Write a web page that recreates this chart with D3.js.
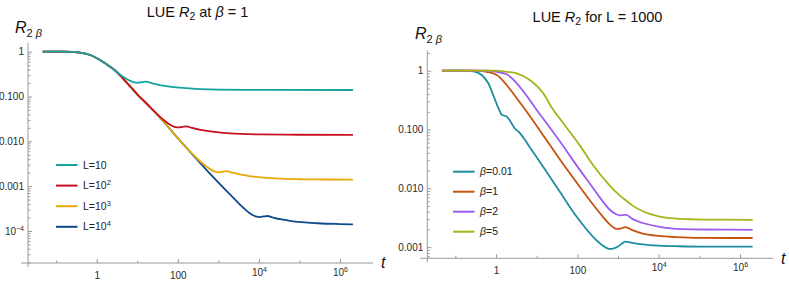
<!DOCTYPE html>
<html>
<head>
<meta charset="utf-8">
<script src="https://cdn.jsdelivr.net/npm/d3@7"></script>
<style>
  body { margin: 0; background: #fff; }
  svg text { font-family: "Liberation Sans", Arial, sans-serif; }
</style>
</head>
<body>
<svg id="chart" width="789" height="283"></svg>
<script>
// points are [log10 t, log10 R2]

// left panel : beta = 1, several L
const curveL10 = [[-1.33,0],[-0.8,0],[-0.41,-0.022],[-0.16,-0.074],[0.08,-0.185],[0.33,-0.335],[0.49,-0.447],[0.65,-0.56],[0.82,-0.648],[0.93,-0.685],[1.02,-0.693],[1.12,-0.68],[1.21,-0.668],[1.35,-0.7],[1.56,-0.744],[1.8,-0.78],[2.05,-0.804],[2.54,-0.834],[3.0,-0.846],[4.0,-0.853],[6.32,-0.855]];
const curveL100 = [[-1.33,0],[-0.8,0],[-0.41,-0.022],[-0.16,-0.074],[0.08,-0.185],[0.33,-0.335],[0.49,-0.447],[0.65,-0.6],[0.82,-0.77],[1.0,-0.95],[1.31,-1.23],[1.45,-1.36],[1.62,-1.5],[1.8,-1.625],[1.92,-1.677],[2.02,-1.69],[2.12,-1.676],[2.21,-1.666],[2.35,-1.7],[2.56,-1.744],[2.8,-1.78],[3.05,-1.804],[3.54,-1.834],[4.0,-1.846],[5.0,-1.853],[6.32,-1.855]];
const curveL1000 = [[-1.33,0],[-0.8,0],[-0.41,-0.022],[-0.16,-0.074],[0.08,-0.185],[0.33,-0.335],[0.49,-0.447],[0.65,-0.6],[0.82,-0.77],[1.0,-0.95],[1.31,-1.23],[1.45,-1.36],[1.62,-1.53],[2.0,-1.93],[2.25,-2.18],[2.45,-2.36],[2.62,-2.5],[2.8,-2.62],[2.92,-2.675],[3.02,-2.69],[3.12,-2.676],[3.21,-2.666],[3.35,-2.7],[3.56,-2.744],[3.8,-2.78],[4.05,-2.804],[4.54,-2.834],[5.0,-2.846],[5.6,-2.852],[6.32,-2.855]];
const curveL10000 = [[-1.33,0],[-0.8,0],[-0.41,-0.022],[-0.16,-0.074],[0.08,-0.185],[0.33,-0.335],[0.49,-0.447],[0.65,-0.6],[0.82,-0.77],[1.0,-0.95],[1.31,-1.23],[1.45,-1.36],[1.62,-1.53],[2.0,-1.93],[2.25,-2.18],[2.45,-2.38],[2.7,-2.63],[2.95,-2.87],[3.36,-3.25],[3.6,-3.47],[3.8,-3.62],[3.92,-3.675],[4.02,-3.69],[4.12,-3.676],[4.21,-3.666],[4.35,-3.7],[4.56,-3.744],[4.8,-3.78],[5.05,-3.804],[5.54,-3.834],[6.0,-3.846],[6.32,-3.852]];

// right panel : L = 1000, several beta
const curveB001 = [[-1.33,0],[-0.8,0],[-0.56,-0.01],[-0.35,-0.073],[-0.19,-0.214],[-0.07,-0.413],[0.06,-0.638],[0.14,-0.751],[0.26,-0.779],[0.38,-0.892],[0.47,-0.988],[0.55,-1.034],[0.71,-1.175],[0.83,-1.3],[1.0,-1.47],[1.28,-1.76],[1.57,-2.06],[1.98,-2.48],[2.38,-2.82],[2.6,-2.96],[2.79,-3.03],[2.9,-3.02],[3.0,-2.99],[3.1,-2.94],[3.18,-2.905],[3.3,-2.92],[3.45,-2.94],[3.7,-2.96],[4.02,-2.975],[4.5,-2.985],[5.0,-2.99],[6.31,-2.99]];
const curveB1 = [[-1.33,0],[-0.5,0],[-0.23,-0.02],[0.02,-0.073],[0.26,-0.243],[0.51,-0.469],[0.83,-0.77],[1.24,-1.18],[1.57,-1.51],[1.98,-1.9],[2.38,-2.27],[2.6,-2.46],[2.79,-2.61],[2.92,-2.68],[3.0,-2.69],[3.1,-2.675],[3.18,-2.66],[3.35,-2.71],[3.61,-2.77],[4.0,-2.81],[4.43,-2.83],[5.0,-2.843],[6.31,-2.845]];
const curveB2 = [[-1.33,0],[-0.2,0],[0.02,-0.02],[0.26,-0.061],[0.51,-0.214],[0.83,-0.5],[1.0,-0.667],[1.24,-0.89],[1.65,-1.28],[1.98,-1.61],[2.38,-1.99],[2.6,-2.2],[2.79,-2.36],[2.95,-2.44],[3.04,-2.46],[3.12,-2.455],[3.2,-2.45],[3.35,-2.52],[3.61,-2.59],[4.0,-2.65],[4.43,-2.69],[5.0,-2.7],[6.31,-2.705]];
const curveB5 = [[-1.33,0],[0.0,0],[0.26,-0.02],[0.51,-0.044],[0.83,-0.158],[1.16,-0.384],[1.365,-0.62],[1.65,-0.89],[2.06,-1.27],[2.38,-1.6],[2.79,-1.95],[3.04,-2.12],[3.2,-2.21],[3.35,-2.29],[3.61,-2.39],[4.02,-2.48],[4.43,-2.515],[4.84,-2.527],[5.5,-2.533],[6.31,-2.535]];

// legends
const leftNames = ["L=10", "L=10", "L=10", "L=10"];
const leftSups = ["", "2", "3", "4"];
const rightNames = ["0.01", "1", "2", "5"];

// ticks
const xMajor = [1, 100, 1e4, 1e6];
const xLabels = [["1", ""], ["100", ""], ["10", "4"], ["10", "6"]];
const xMinor = [0.1, 10, 1000, 1e5];
const yMajorLeft = [1, 0.1, 0.01, 0.001, 1e-4];
const yLabelsLeft = [["1", ""], ["0.100", ""], ["0.010", ""], ["0.001", ""], ["10", "\u22124"]];
const yMajorRight = [1, 0.1, 0.01, 0.001];
const yLabelsRight = [["1", ""], ["0.100", ""], ["0.010", ""], ["0.001", ""]];

const leftColors = ["#15a2a2", "#c8101e", "#e8a90c", "#0e4b8e"];
const rightColors = ["#1d8e9e", "#c4540f", "#9b5df0", "#a6b41a"];

const svg = d3.select("#chart");
svg.append("rect").attr("width", 789).attr("height", 283).attr("fill", "#fff");

// replace tick texts, adding a superscript where needed
function addSup(sel, labels, values, supDy) {
    sel.selectAll(".tick text").each(function(d) {
        const i = values.indexOf(d);
        if (i < 0) return;
        const t = d3.select(this);
        t.text(labels[i][0]);
        if (labels[i][1]) {
            t.append("tspan").attr("dy", supDy).attr("font-size", 7).text(labels[i][1]);
        }
    });
}

function drawPanel(p) {
    const x = d3.scaleLog().domain(p.tDomain).range(p.xRange);
    const y = d3.scaleLog().domain(p.rDomain).range(p.yRange);
    const g = svg.append("g");
    const ox = p.xRange[0];
    const oy = p.yRange[0];
    const axisColor = "#9a9a9a";

    // x axis
    const gx = g.append("g").attr("transform", `translate(0,${oy})`);
    gx.call(d3.axisBottom(x).tickValues(xMajor).tickSizeInner(-4).tickSizeOuter(0).tickPadding(8.5));
    addSup(gx, xLabels, xMajor, "-4");
    gx.selectAll(".tick text").each(function(d) {
        const i = xMajor.indexOf(d);
        if (i >= 0 && xLabels[i][1]) d3.select(this).attr("y", 5.5);
    });
    gx.append("g").call(d3.axisBottom(x).tickValues(xMinor).tickSizeInner(-2.5).tickSizeOuter(0).tickFormat(""));

    // y axis
    const yMinor = [];
    for (let e = -6; e <= 0; e++) {
        for (let k = 2; k <= 9; k++) {
            const v = k * Math.pow(10, e);
            if (v > p.rDomain[0] && v < p.rDomain[1]) yMinor.push(v);
        }
    }
    const gy = g.append("g").attr("transform", `translate(${ox},0)`);
    gy.call(d3.axisLeft(y).tickValues(p.yMajor).tickSizeInner(-4).tickSizeOuter(0).tickPadding(4));
    addSup(gy, p.yLabels, p.yMajor, "-3.5");
    gy.append("g").call(d3.axisLeft(y).tickValues(yMinor).tickSizeInner(-2.5).tickSizeOuter(0).tickFormat(""));

    g.selectAll(".domain").remove();
    g.selectAll(".tick line").attr("stroke", axisColor);
    g.selectAll(".tick text").attr("fill", "#2a2a2a").attr("font-size", 10);
    g.selectAll("g").attr("font-family", null).attr("font-size", null);

    g.append("line").attr("x1", ox - 7).attr("x2", p.xRange[1]).attr("y1", oy).attr("y2", oy)
        .attr("stroke", axisColor).attr("stroke-width", 1);
    g.append("line").attr("x1", ox).attr("x2", ox).attr("y1", p.yRange[1]).attr("y2", oy + 4)
        .attr("stroke", axisColor).attr("stroke-width", 1);

    // curves
    const line = d3.line()
        .x(d => x(Math.pow(10, d[0])))
        .y(d => y(Math.pow(10, d[1])))
        .curve(d3.curveMonotoneX);
    p.order.forEach(i => {
        g.append("path").attr("d", line(p.curves[i])).attr("fill", "none")
            .attr("stroke", p.colors[i]).attr("stroke-width", 1.8).attr("stroke-linejoin", "round");
    });

    // title
    const title = g.append("text").attr("x", p.titleX).attr("y", p.titleY)
        .attr("text-anchor", "middle").attr("font-size", 14.5).attr("fill", "#111");
    title.append("tspan").text("LUE ");
    title.append("tspan").attr("font-style", "italic").text("R");
    title.append("tspan").attr("font-size", 10.5).attr("dy", 3).text("2");
    p.titleRest(title);

    // axis names
    const yl = g.append("text").attr("x", p.yNameX).attr("y", p.yNameY).attr("fill", "#111").attr("font-size", 16);
    yl.append("tspan").attr("font-style", "italic").text("R");
    yl.append("tspan").attr("font-size", 11).attr("dy", 4).text("2 ");
    yl.append("tspan").attr("font-size", 11).attr("font-style", "italic").text("\u03b2");
    g.append("text").attr("x", p.tNameX).attr("y", p.tNameY).attr("font-size", 16)
        .attr("font-style", "italic").attr("fill", "#111").text("t");

    // legend
    p.colors.forEach((c, i) => {
        const ly = p.legY + i * p.legStep;
        g.append("line").attr("x1", p.legX).attr("x2", p.legX + 21.5).attr("y1", ly).attr("y2", ly)
            .attr("stroke", c).attr("stroke-width", 2);
        const t = g.append("text").attr("x", p.legX + 27).attr("y", ly).attr("dy", "0.35em")
            .attr("font-size", 10.5).attr("fill", "#222");
        p.legendText(t, i);
    });
}

drawPanel({
    tDomain: [Math.pow(10, -1.694), Math.pow(10, 6.814)], xRange: [28, 373],
    rDomain: [Math.pow(10, -4.715), Math.pow(10, 0.194)], yRange: [263, 43],
    yMajor: yMajorLeft, yLabels: yLabelsLeft,
    curves: [curveL10, curveL100, curveL1000, curveL10000],
    colors: leftColors, order: [3, 2, 1, 0],
    titleX: 197.5, titleY: 16.5,
    titleRest: t => {
        t.append("tspan").attr("dy", -3).text(" at ");
        t.append("tspan").attr("font-style", "italic").text("\u03b2");
        t.append("tspan").text(" = 1");
    },
    yNameX: 15, yNameY: 33, tNameX: 381, tNameY: 268,
    legX: 56, legY: 165, legStep: 20.6,
    legendText: (t, i) => {
        t.append("tspan").text(leftNames[i]);
        if (leftSups[i]) t.append("tspan").attr("dy", -4).attr("font-size", 7.5).text(leftSups[i]);
    }
});

drawPanel({
    tDomain: [Math.pow(10, -1.69), Math.pow(10, 6.81)], xRange: [427.3, 773],
    rDomain: [Math.pow(10, -3.19), Math.pow(10, 0.34)], yRange: [258.3, 50.7],
    yMajor: yMajorRight, yLabels: yLabelsRight,
    curves: [curveB001, curveB1, curveB2, curveB5],
    colors: rightColors, order: [0, 1, 2, 3],
    titleX: 597.5, titleY: 21.7,
    titleRest: t => {
        t.append("tspan").attr("dy", -3).text(" for L = 1000");
    },
    yNameX: 415, yNameY: 39, tNameX: 781, tNameY: 264,
    legX: 453, legY: 171.7, legStep: 20,
    legendText: (t, i) => {
        t.append("tspan").attr("font-style", "italic").text("\u03b2");
        t.append("tspan").text("=" + rightNames[i]);
    }
});
</script>
</body>
</html>
